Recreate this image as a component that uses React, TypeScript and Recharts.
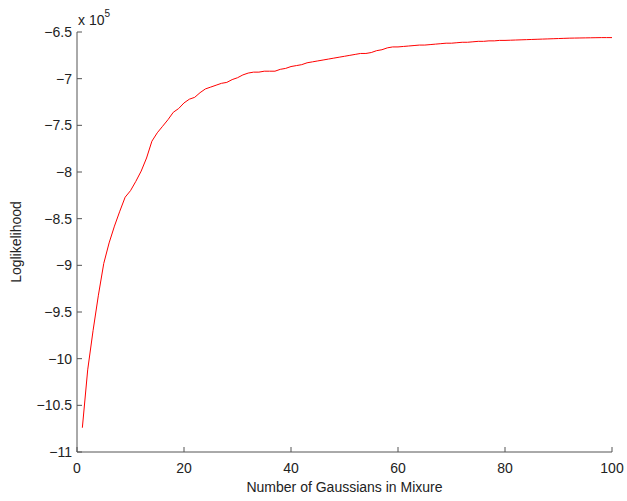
import React from "react";
import { LineChart, Line, XAxis, YAxis } from "recharts";

// Log-likelihood values in units of 10^5
const components = Array.from({ length: 100 }, (_, i) => i + 1);
const loglik = [
  -10.74, -10.12, -9.7, -9.32, -8.98, -8.76, -8.58, -8.42, -8.27, -8.2,
  -8.1, -7.99, -7.85, -7.67, -7.58, -7.51, -7.44, -7.36, -7.32, -7.26,
  -7.22, -7.2, -7.15, -7.11, -7.09, -7.07, -7.05, -7.04, -7.01, -6.99,
  -6.96, -6.94, -6.93, -6.93, -6.92, -6.92, -6.92, -6.9, -6.89, -6.87,
  -6.86, -6.85, -6.83, -6.82, -6.81, -6.8, -6.79, -6.78, -6.77, -6.76,
  -6.75, -6.74, -6.73, -6.73, -6.72, -6.7, -6.69, -6.67, -6.66, -6.66,
  -6.655, -6.65, -6.645, -6.64, -6.64, -6.635, -6.63, -6.625, -6.62, -6.62,
  -6.615, -6.61, -6.61, -6.605, -6.6, -6.6, -6.595, -6.595, -6.59, -6.59,
  -6.588, -6.586, -6.584, -6.582, -6.58, -6.578, -6.576, -6.574, -6.572, -6.57,
  -6.568, -6.566, -6.565, -6.564, -6.563, -6.562, -6.561, -6.56, -6.56, -6.56,
];
const xTicks = [0, 20, 40, 60, 80, 100];
const yTicks = [-11, -10.5, -10, -9.5, -9, -8.5, -8, -7.5, -7, -6.5];

const data = components.map((c, i) => ({ k: c, ll: loglik[i] }));

const FONT = "'Liberation Sans', Arial, Helvetica, sans-serif";
const AXIS = "#555555";
const TEXT = "#222222";

const fmt = (v: number) => String(v).replace("-", "\u2212");

const XTick = (props: any) => {
  const { x, y, payload } = props;
  const axisY = y - 8;
  return (
    <g>
      <line x1={x} x2={x} y1={axisY} y2={axisY - 5} stroke={AXIS} strokeWidth={1} />
      <text x={x} y={axisY + 21} textAnchor="middle" fontSize={14} fontFamily={FONT} fill={TEXT}>
        {fmt(payload.value)}
      </text>
    </g>
  );
};

const YTick = (props: any) => {
  const { x, y, payload } = props;
  const axisX = x + 6;
  return (
    <g>
      <line x1={axisX} x2={axisX + 5} y1={y} y2={y} stroke={AXIS} strokeWidth={1} />
      <text x={axisX - 5} y={y + 5} textAnchor="end" fontSize={14} fontFamily={FONT} fill={TEXT}>
        {fmt(payload.value)}
      </text>
    </g>
  );
};

export default function App() {
  return (
    <div style={{ position: "absolute", left: 0, top: 0, width: 627, height: 501, background: "#fff" }}>
      <LineChart
        width={627}
        height={501}
        data={data}
        margin={{ top: 32, right: 15, left: 0, bottom: 0 }}
      >
        <XAxis
          dataKey="k"
          type="number"
          domain={[0, 100]}
          ticks={xTicks}
          height={49}
          tickSize={0}
          tickMargin={8}
          tickLine={false}
          axisLine={{ stroke: AXIS, strokeWidth: 1 }}
          tick={<XTick />}
          interval={0}
        />
        <YAxis
          type="number"
          domain={[-11, -6.5]}
          ticks={yTicks}
          width={77}
          tickSize={0}
          tickMargin={6}
          tickLine={false}
          axisLine={{ stroke: AXIS, strokeWidth: 1 }}
          tick={<YTick />}
          interval={0}
          allowDataOverflow
        />
        <Line
          dataKey="ll"
          stroke="#ff0000"
          strokeWidth={1}
          dot={false}
          type="linear"
          isAnimationActive={false}
        />
      </LineChart>
      <div
        style={{
          position: "absolute",
          left: 78,
          top: 8,
          fontFamily: FONT,
          fontSize: 14,
          color: TEXT,
          lineHeight: "16px",
          whiteSpace: "nowrap",
        }}
      >
        x 10<sup style={{ fontSize: 10, position: "relative", top: -2 }}>5</sup>
      </div>
      <div
        style={{
          position: "absolute",
          left: 0,
          width: 627,
          top: 478,
          textAlign: "center",
          paddingLeft: 62,
          boxSizing: "border-box",
          fontFamily: FONT,
          fontSize: 14,
          color: TEXT,
          lineHeight: "18px",
        }}
      >
        Number of Gaussians in Mixure
      </div>
      <div
        style={{
          position: "absolute",
          left: 16,
          top: 242,
          transform: "translate(-50%, -50%) rotate(-90deg)",
          fontFamily: FONT,
          fontSize: 14,
          color: TEXT,
          lineHeight: "18px",
          whiteSpace: "nowrap",
        }}
      >
        Loglikelihood
      </div>
    </div>
  );
}
